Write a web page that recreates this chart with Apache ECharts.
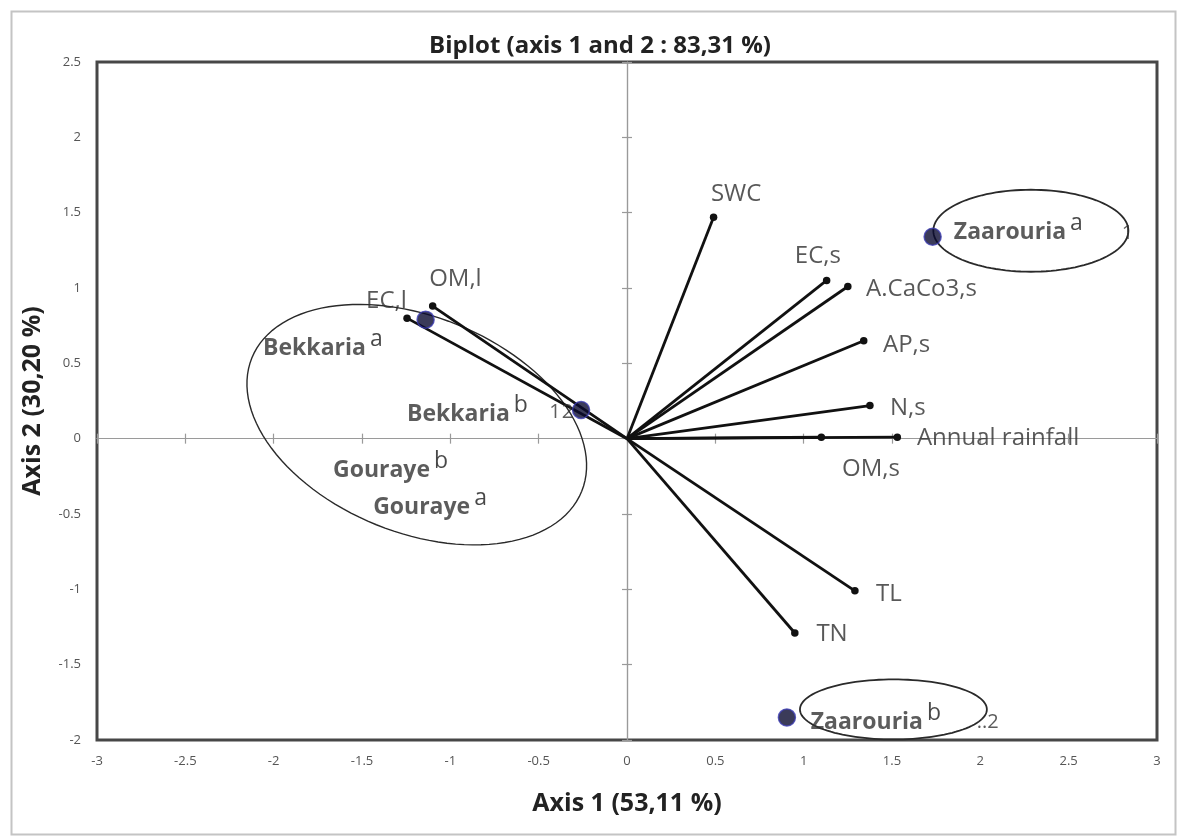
<!DOCTYPE html>
<html><head><meta charset="utf-8">
<script src="https://cdn.jsdelivr.net/npm/echarts@6/dist/echarts.min.js"></script>
<style>html,body{margin:0;padding:0;background:#fff}#c{width:1186px;height:838px}</style>
</head><body><div id="c"></div>
<script>
// ---- axis ranges / ticks ----
const xMin = -3, xMax = 3, xStep = 0.5;
const yMin = -2, yMax = 2.5, yStep = 0.5;
const chartTitle = 'Biplot (axis 1 and 2 : 83,31 %)';
const xTitle = 'Axis 1 (53,11 %)';
const yTitle = 'Axis 2 (30,20 %)';

// ---- variable vectors (loadings) ----
const varNames = ['SWC', 'EC,s', 'A.CaCo3,s', 'AP,s', 'N,s', 'Annual rainfall', 'OM,s', 'TL', 'TN', 'OM,l', 'EC,l'];
const varX = [0.49, 1.13, 1.25, 1.34, 1.375, 1.53, 1.10, 1.29, 0.95, -1.10, -1.245];
const varY = [1.47, 1.05, 1.01, 0.65, 0.22, 0.01, 0.01, -1.01, -1.29, 0.88, 0.80];
// anchor (start of text) of each variable label, data units
const varLabelX = [0.475, 0.95, 1.353, 1.449, 1.488, 1.641, 1.217, 1.41, 1.072, -1.12, -1.477];
const varLabelY = [1.625, 1.21, 0.995, 0.62, 0.205, 0.005, -0.20, -1.03, -1.30, 1.06, 0.915];

// ---- observations (sites) ----
const siteX = [-1.14, -0.26, 1.73, 0.905];
const siteY = [0.79, 0.19, 1.34, -1.85];

// ---- site labels ----
const siteLabelNames = ['Bekkaria', 'Bekkaria', 'Gouraye', 'Gouraye', 'Zaarouria', 'Zaarouria'];
const siteLabelTags = ['a', 'b', 'b', 'a', 'a', 'b'];
const siteLabelX = [-2.06, -1.245, -1.664, -1.437, 1.85, 1.04];
const siteLabelY = [0.60, 0.166, -0.206, -0.45, 1.373, -1.877];

// ---- stray point ids ----
const idTexts = ['1', '1', '2', '..2'];
const idX = [2.80, -0.44, -0.37, 1.98];
const idY = [1.36, 0.175, 0.175, -1.88];

// ---- ellipses: centre, semi-axes (x units), rotation (deg) ----
const ellCX = [-1.19, 2.286, 1.508];
const ellCY = [0.093, 1.38, -1.797];
const ellA = [1.007, 0.552, 0.529];
const ellB = [0.611, 0.232, 0.17];
const ellRot = [22, 0, 0];

const FONT = 'Open Sans';
const chart = echarts.init(document.getElementById('c'), null, {renderer: 'canvas'});

const series = [];

// ellipses
series.push({
  type: 'custom', coordinateSystem: 'cartesian2d', xAxisIndex: 0, yAxisIndex: 0,
  silent: true, z: 1, clip: false,
  data: ellCX.map((cx, i) => [cx, ellCY[i], ellA[i], ellB[i], ellRot[i]]),
  renderItem(params, api) {
    const c = api.coord([api.value(0), api.value(1)]);
    const unit = api.size([1, 0])[0];
    const a = api.value(2) * unit, b = api.value(3) * unit;
    const t = api.value(4) * Math.PI / 180;
    const pts = [];
    for (let k = 0; k < 120; k++) {
      const p = k / 120 * Math.PI * 2;
      pts.push([c[0] + a * Math.cos(p) * Math.cos(t) - b * Math.sin(p) * Math.sin(t),
                c[1] + a * Math.cos(p) * Math.sin(t) + b * Math.sin(p) * Math.cos(t)]);
    }
    return {type: 'polygon', shape: {points: pts},
      style: {fill: 'none', stroke: '#2a2a2a', lineWidth: params.dataIndex === 0 ? 1.4 : 1.8}};
  }
});

// vectors
varNames.forEach((n, i) => {
  series.push({
    type: 'line', name: n, xAxisIndex: 0, yAxisIndex: 0, silent: true, z: 3,
    data: [[0, 0], [varX[i], varY[i]]],
    symbol: 'circle', showSymbol: true,
    symbolSize: (v, p) => (p.dataIndex === 0 ? 0 : 7.5),
    lineStyle: {color: '#111', width: 2.8},
    itemStyle: {color: '#111'}
  });
});

// variable labels
series.push({
  type: 'scatter', xAxisIndex: 0, yAxisIndex: 0, silent: true, z: 4, symbolSize: 0,
  data: varNames.map((n, i) => ({name: n, value: [varLabelX[i], varLabelY[i]]})),
  label: {show: true, position: 'right', distance: 0, formatter: '{b}',
    fontFamily: FONT, fontSize: 24, color: '#2e2e2e'}
});

// site dots
series.push({
  type: 'scatter', xAxisIndex: 0, yAxisIndex: 0, silent: true, z: 6, symbolSize: 17,
  data: siteX.map((x, i) => [x, siteY[i]]),
  itemStyle: {color: '#0a0a30', borderColor: '#3b3bb0', borderWidth: 1.5}
});

// site labels
series.push({
  type: 'scatter', xAxisIndex: 0, yAxisIndex: 0, silent: true, z: 5, symbolSize: 0,
  data: siteLabelNames.map((n, i) => ({name: n, tag: siteLabelTags[i], value: [siteLabelX[i], siteLabelY[i]]})),
  label: {show: true, position: 'right', distance: 0, offset: [0, -4],
    formatter: p => '{n|' + p.name + '}{s|' + p.data.tag + '}',
    rich: {
      n: {fontFamily: FONT, fontWeight: 'bold', fontSize: 23, color: '#333', lineHeight: 32, verticalAlign: 'bottom'},
      s: {fontFamily: FONT, fontSize: 23, color: '#1a1a1a', lineHeight: 12, verticalAlign: 'top', padding: [0, 0, 0, 4]}
    }}
});

// stray ids
series.push({
  type: 'scatter', xAxisIndex: 0, yAxisIndex: 0, silent: true, z: 4, symbolSize: 0,
  data: idTexts.map((t, i) => ({name: t, value: [idX[i], idY[i]]})),
  label: {show: true, position: 'right', distance: 0, formatter: '{b}',
    fontFamily: FONT, fontSize: 20, color: '#333'}
});

const zeroAxisCommon = {
  type: 'value', axisLabel: {show: false}, splitLine: {show: false},
  axisLine: {show: true, onZero: true, onZeroAxisIndex: 0, lineStyle: {color: '#9a9a9a', width: 1.2}},
  axisTick: {show: true, length: 5, lineStyle: {color: '#9a9a9a', width: 1.2}}
};

chart.setOption({
  animation: false,
  backgroundColor: '#fff',
  grid: {left: 97, right: 29, top: 62, bottom: 98, show: true, borderColor: '#474747', borderWidth: 3, backgroundColor: 'transparent'},
  xAxis: [
    {type: 'value', min: xMin, max: xMax, interval: xStep, position: 'bottom',
      name: xTitle, nameLocation: 'middle', nameGap: 51,
      nameTextStyle: {fontFamily: FONT, fontWeight: 'bold', fontSize: 25, color: '#222'},
      axisLine: {show: false, onZero: false}, axisTick: {show: false}, splitLine: {show: false},
      axisLabel: {fontFamily: FONT, fontSize: 13, color: '#555', margin: 15}},
    Object.assign({}, zeroAxisCommon, {min: xMin, max: xMax, interval: xStep, position: 'bottom'}),
    Object.assign({}, zeroAxisCommon, {min: xMin, max: xMax, interval: xStep, position: 'top'})
  ],
  yAxis: [
    {type: 'value', min: yMin, max: yMax, interval: yStep, position: 'left',
      name: yTitle, nameLocation: 'middle', nameGap: 52, nameRotate: 90,
      nameTextStyle: {fontFamily: FONT, fontWeight: 'bold', fontSize: 25, color: '#222'},
      axisLine: {show: false, onZero: false}, axisTick: {show: false}, splitLine: {show: false},
      axisLabel: {fontFamily: FONT, fontSize: 13, color: '#555', margin: 16}},
    Object.assign({}, zeroAxisCommon, {min: yMin, max: yMax, interval: yStep, position: 'left'}),
    Object.assign({}, zeroAxisCommon, {min: yMin, max: yMax, interval: yStep, position: 'right'})
  ],
  graphic: [
    {type: 'rect', left: 9, top: 9, silent: true, z: 0,
      shape: {width: 1164, height: 823}, style: {fill: 'none', stroke: '#c4c4c4', lineWidth: 2}},
    {type: 'text', x: 600, y: 46, silent: true, z: 10,
      style: {text: chartTitle, fontFamily: FONT, fontWeight: 'bold', fontSize: 24, fill: '#222',
        align: 'center', verticalAlign: 'middle'}}
  ],
  series: series
});
</script></body></html>
